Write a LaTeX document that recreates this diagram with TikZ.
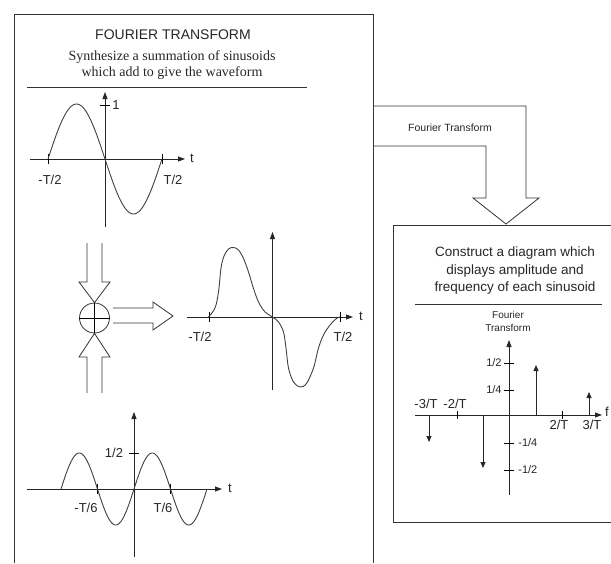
\documentclass[tikz,border=0pt]{standalone}
\usepackage{fontspec}
\setmainfont{Liberation Serif}
\setsansfont{Liberation Sans}
\usepackage{tikz}
\usetikzlibrary{arrows.meta,positioning}
\tikzset{every node/.style={font=\sffamily\small}}

\begin{document}
\begin{tikzpicture}[
  x=1pt, y=-1pt,
  line width=0.8pt,
  frame/.style={draw=black!80},
  axis/.style={draw=black!85, -{Triangle[length=7pt,width=5pt]}},
  spike/.style={draw=black!85, -{Triangle[length=6pt,width=5pt]}},
  wave/.style={draw=black!75, line width=0.9pt},
  hollow/.style={draw=black!80, line join=miter},
  lbl/.style={font=\sffamily\fontsize{13}{13}\selectfont, text=black!85, inner sep=1pt},
  small/.style={font=\sffamily\fontsize{11}{11}\selectfont, text=black!85, inner sep=1pt}
]
\useasboundingbox (0,0) rectangle (611,563);

% left panel: synthesis
\draw[frame] (14,563) -- (14,14) -- (373,14) -- (373,563);
\node[font=\sffamily\fontsize{14}{14}\selectfont, text=black!85] (title) at (173,35) {FOURIER TRANSFORM};
\node[font=\rmfamily\fontsize{14}{16}\selectfont, align=center, text=black!85] (synth) at (172,65)
{Synthesize a summation of sinusoids\\which add to give the waveform};
\draw[frame] (27,87) -- (307,87);

% fundamental
\draw[axis] (30,159) -- (185,159);
\draw[axis] (105,227) -- (105,92);
\draw (100,105) -- (110,105);
\draw (48,154) -- (48,164);
\draw (162,154) -- (162,164);
\draw[wave] plot[domain=-57:57, samples=80] ({105+\x}, {159+55*sin(180/57*\x)});
\node[lbl] (t1) at (192,158) {t};
\node[lbl] (one) at (116,105) {1};
\node[lbl] (m1) at (50,180) {-T/2};
\node[lbl] (p1) at (173,180) {T/2};

% summing junction
\node[circle, draw=black!80, minimum size=30pt, inner sep=0pt] (sum) at (94.5,318) {};
\draw (sum.north) -- (sum.south) (sum.west) -- (sum.east);
\draw[hollow] (87,243) -- (87,282) -- (79,282) -- (sum.north) -- (110,282) -- (102,282) -- (102,243);
\draw[hollow] (87,393) -- (87,357) -- (79,357) -- (sum.south) -- (110,357) -- (102,357) -- (102,393);
\coordinate (res) at (173,316);
\draw[hollow] (113,308) -- (153,308) -- (153,302) -- (res) -- (153,330) -- (153,323) -- (113,323);

% resulting waveform
\draw[axis] (187,317) -- (353,317);
\draw[axis] (272.5,390) -- (272.5,232);
\draw (209,312) -- (209,322);
\draw (340,312) -- (340,322);
\draw[wave] plot[smooth, tension=0.55] coordinates {(208.5,317) (215,308) (218.5,292) (221,268)
  (224,256) (228.5,249) (233.5,247.5) (238.5,250) (243.5,258.5) (248.5,272) (253.5,288.5)
  (258.5,302) (265,312) (272.5,317) (278.5,322) (283.5,332) (286,348) (288.5,368) (293.5,382)
  (300,387) (306.5,383.5) (313.5,368) (318.5,348) (323.5,335) (330,325) (336.5,318.5) (340,317)};
\node[lbl] (t2) at (361,316) {t};
\node[lbl] (m2) at (200,337) {-T/2};
\node[lbl] (p2) at (343,337) {T/2};

% third harmonic
\draw[axis] (27,489) -- (222,489);
\draw[axis] (134,557) -- (134,412);
\draw (129,453) -- (139,453);
\draw (97,484) -- (97,494);
\draw (170,484) -- (170,494);
\draw[wave] plot[domain=-360:360, samples=160] ({134+73/360*\x}, {489-36*sin(\x)});
\node[lbl] (t3) at (230,488) {t};
\node[lbl] (half) at (114,453) {1/2};
\node[lbl] (m3) at (86,508) {-T/6};
\node[lbl] (p3) at (163,508) {T/6};

% transform arrow
\draw[hollow] (373,106) -- (526,106) -- (526,198) -- (539,198) -- (506,224) -- (473,198) -- (486,198) -- (486,146) -- (373,146);
\node[font=\sffamily\fontsize{10.5}{10.5}\selectfont, text=black!85] (ft) at (450,128) {Fourier Transform};

% right panel: spectrum
\draw[frame] (611,225) -- (393,225) -- (393,522) -- (611,522);
\node[font=\sffamily\fontsize{13.5}{17.5}\selectfont, align=center, text=black!85] (constr) at (515,271)
{Construct a diagram which\\displays amplitude and\\frequency of each sinusoid};
\draw[frame] (415,304) -- (602,304);
\node[font=\sffamily\fontsize{10}{13}\selectfont, align=center, text=black!85] (fthead) at (508,321.5) {Fourier\\Transform};

\draw[axis] (415,415) -- (602,415);
\draw[axis] (509,495) -- (509,340);
\foreach \yy in {363,390,443,470} \draw (504,\yy) -- (514,\yy);
\draw (457,411) -- (457,419);
\draw (562,411) -- (562,419);
\draw[spike] (429,415) -- (429,442);
\draw[spike] (483,415) -- (483,468);
\draw[spike] (536,415) -- (536,365);
\draw[spike] (589,415) -- (589,392);
\node[lbl] (f) at (607,412) {f};
\node[small, anchor=east] (a1) at (503,363) {1/2};
\node[small, anchor=east] (a2) at (503,390) {1/4};
\node[small, anchor=west] (a3) at (517,443) {-1/4};
\node[small, anchor=west] (a4) at (517,470) {-1/2};
\node[lbl] (f1) at (426,404) {-3/T};
\node[lbl] (f2) at (455,404) {-2/T};
\node[lbl] (f3) at (559,425) {2/T};
\node[lbl] (f4) at (592,425) {3/T};

\end{tikzpicture}
\end{document}
